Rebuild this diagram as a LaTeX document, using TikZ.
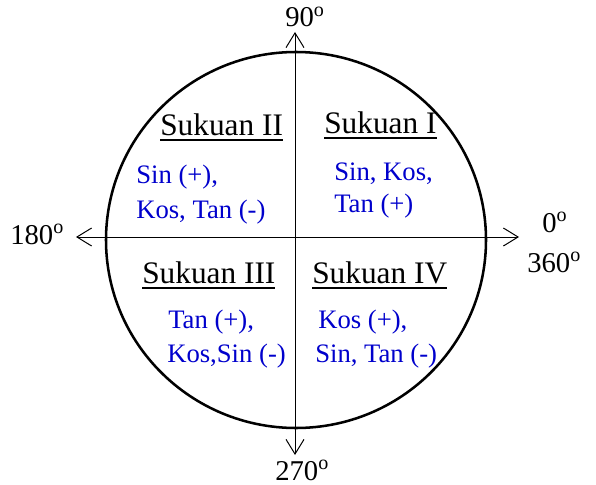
\documentclass[tikz,border=0pt]{standalone}
\usepackage{fontspec}
\setmainfont{Liberation Serif}
\usetikzlibrary{arrows.meta}
\definecolor{ink}{HTML}{000000}
\definecolor{signblue}{HTML}{0000CC}
\newcommand{\quadtitle}[1]{\vtop{\hbox{#1}\kern3pt\hrule height 1.3pt}}
\tikzset{
  axis/.style={{Straight Barb[length=11pt,width=13.5pt]}-{Straight Barb[length=11pt,width=13.5pt]}, line width=0.75pt, draw=ink},
  rim/.style={line width=1.9pt, draw=ink},
  title/.style={anchor=base west, inner sep=0pt, font=\fontsize{23.5}{28}\selectfont, text=ink},
  sign/.style={anchor=base west, inner sep=0pt, font=\fontsize{20}{24}\selectfont, text=signblue},
  deg/.style={anchor=base west, inner sep=0pt, font=\fontsize{21.5}{26}\selectfont, text=ink},
}
\begin{document}
\begin{tikzpicture}[x=0.75pt, y=-0.75pt]
    \useasboundingbox (0,0) rectangle (596,485);
    % circle and axes
    \coordinate (ctr) at (296,240);
    \coordinate (west) at (76,237);
    \coordinate (east) at (519,237);
    \coordinate (north) at (295,32);
    \coordinate (south) at (295,455);
    \draw[rim] (ctr) ellipse [x radius=190, y radius=188];
    \draw[axis] (west) -- (east);
    \draw[axis] (south) -- (north);
    % angle labels
    \node[deg] (d90) at (285,27) {90\textsuperscript{o}};
    \node[deg] (d180) at (10,244) {180\textsuperscript{o}};
    \node[deg] (d0) at (542,232) {0\textsuperscript{o}};
    \node[deg] (d360) at (527,272) {360\textsuperscript{o}};
    \node[deg] (d270) at (275,480) {270\textsuperscript{o}};
    % quadrant titles
    \foreach \x/\y/\name [count=\i] in {
        324/133/Sukuan I, 160/135/Sukuan II,
        142/283/Sukuan III, 312/283/Sukuan IV} {
      \node[title] (q\i) at (\x,\y) {\quadtitle{\name}};
    }
    % signs of the ratios
    \foreach \x/\y/\what [count=\i] in {
        334/180/{Sin, Kos,}, 334/212/{Tan (+)},
        136/183/{Sin (+),}, 136/218/{Kos, Tan (-)},
        168/328/{Tan (+),}, 167/362/{Kos,Sin (-)},
        318/328/{Kos (+),}, 315/362/{Sin, Tan (-)}} {
      \node[sign] (s\i) at (\x,\y) {\what};
    }
  \end{tikzpicture}
\end{document}
